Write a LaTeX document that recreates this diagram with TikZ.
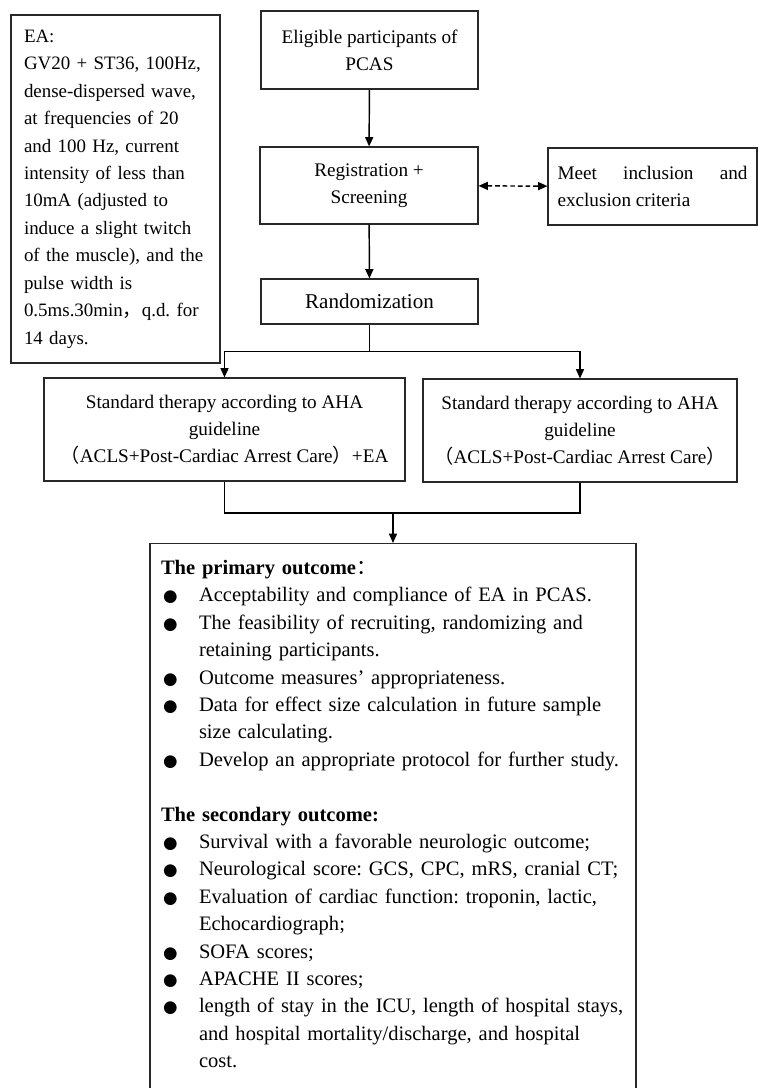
\documentclass[tikz,border=0pt]{standalone}
\usepackage{fontspec}
\setmainfont{Liberation Serif}
\newfontfamily\cjkfont{Noto Sans CJK SC}
\newfontfamily\symbfont{DejaVu Sans}
\usetikzlibrary{calc,arrows.meta,positioning}
\definecolor{frameGrey}{RGB}{40,40,40}
\frenchspacing
\newcommand{\fwl}{{\cjkfont （}}
\newcommand{\fwr}{{\cjkfont ）}}
\newcommand{\fwc}{{\cjkfont ，}}
\newcommand{\fwcolon}{{\cjkfont\mdseries ：}}
\newcommand{\eafont}{\fontsize{14.2}{20.6}\selectfont}
\newcommand{\boxfont}{\fontsize{14.4}{20.2}\selectfont}
\newcommand{\randfont}{\fontsize{15.8}{19}\selectfont}
\newcommand{\outfont}{\fontsize{15.4}{20.55}\selectfont}
\newcommand{\outitem}[1]{\par\hangindent=28.5pt\hangafter=1\noindent\makebox[28.5pt][l]{\hspace{1.5pt}{\symbfont\fontsize{12.5}{12.5}\selectfont ●}}#1}
\tikzset{
  box/.style={draw=frameGrey,line width=.8pt,inner sep=0pt,align=center,font=\boxfont},
  flow/.style={-{Triangle[length=7pt,width=6pt]},line width=1.1pt},
  link/.style={line width=1.1pt}
}
\begin{document}
\begin{tikzpicture}[x=0.75pt,y=-0.75pt]
\fill[white] (0,0) rectangle (758,1088);
\useasboundingbox (0,0) rectangle (758,1088);
\clip (0,0) rectangle (758,1088);
\node[box,minimum width=156.75pt,minimum height=261pt,text width=137.25pt,align=left,font=\eafont] (ea) at (115.5,189) {EA:\\
GV20 + ST36, 100Hz,\\
dense-dispersed wave,\\
at frequencies of 20\\
and 100 Hz, current\\
intensity of less than\\
10mA (adjusted to\\
induce a slight twitch\\
of the muscle), and the\\
pulse width is\\
0.5ms.30min\fwc q.d. for\\
14 days.};
\node[box,minimum width=162.75pt,minimum height=58.5pt] (elig) at (369.5,50) {Eligible participants of\\PCAS};
\node[box,minimum width=163.5pt,minimum height=57.75pt] (reg) at (369,185.5) {Registration +\\Screening};
\node[box,minimum width=156.75pt,minimum height=57.75pt,text width=142.5pt,align=justify] (meet) at (652.5,186.5) {Meet inclusion and\linebreak exclusion criteria};
\node[box,minimum width=162.75pt,minimum height=33.75pt,font=\randfont] (rand) at (369.5,301.5) {Randomization};
\node[box,minimum width=270.75pt,minimum height=77.25pt] (stdL) at (224.5,429.5) {Standard therapy according to AHA\\guideline\\\fwl ACLS+Post-Cardiac Arrest Care\fwr+EA};
\node[box,minimum width=235.5pt,minimum height=77.25pt] (stdR) at (580,430.5) {Standard therapy according to AHA\\guideline\\\fwl ACLS+Post-Cardiac Arrest Care\fwr};
\node[box,anchor=north,minimum width=364.5pt,text width=348pt,inner xsep=8.25pt,inner ysep=12.5pt,align=left,font=\outfont] (out) at (393,543) {\noindent{\bfseries The primary outcome\fwcolon}
\outitem{Acceptability and compliance of EA in PCAS.}
\outitem{The feasibility of recruiting, randomizing and\newline retaining participants.}
\outitem{Outcome measures’ appropriateness.}
\outitem{Data for effect size calculation in future sample\newline size calculating.}
\outitem{Develop an appropriate protocol for further study.}
\par\vspace{20.55pt}
\noindent{\bfseries The secondary outcome:}
\outitem{Survival with a favorable neurologic outcome;}
\outitem{Neurological score: GCS, CPC, mRS, cranial CT;}
\outitem{Evaluation of cardiac function: troponin, lactic,\newline Echocardiograph;}
\outitem{SOFA scores;}
\outitem{APACHE II scores;}
\outitem{length of stay in the ICU, length of hospital stays,\newline and hospital mortality/discharge, and hospital\newline cost.}
\par\noindent\rule{0pt}{30pt}};
\coordinate (split) at ($(rand.south)+(0,27)$);
\coordinate (join) at ($(out.north)+(0,-30)$);
\draw[flow] (elig) -- (reg);
\draw[flow] (reg) -- (rand);
\draw[flow,{Triangle[length=7pt,width=6pt]}-{Triangle[length=7pt,width=6pt]},dash pattern=on 3.5pt off 2.2pt] (reg) -- (meet);
\draw[link] (rand) -- (split);
\draw[flow] (split) -| (stdL);
\draw[flow] (split) -| (stdR);
\draw[link] (stdL) |- (join);
\draw[link] (stdR) |- (join);
\draw[flow] (join) -- (out);
\end{tikzpicture}
\end{document}
